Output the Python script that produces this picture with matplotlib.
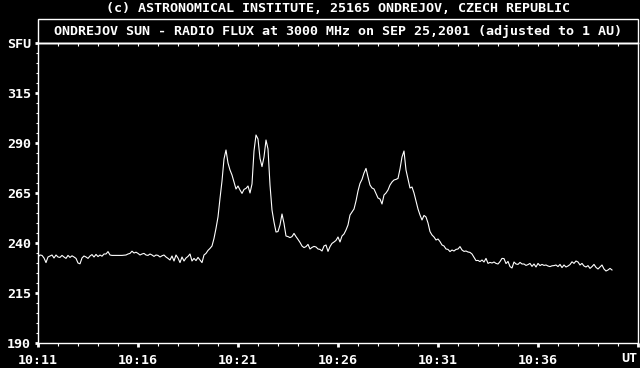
import matplotlib
matplotlib.use("Agg")
import matplotlib.pyplot as plt
from matplotlib.patches import Rectangle
import numpy as np

# radio flux at 3000 MHz, one sample every 0.1 min starting 10:11 UT (SFU)
flux_sfu = [
    233.0, 234.0, 233.8, 232.5, 230.2, 233.0, 233.5, 234.0, 232.5, 234.0,
    233.0, 232.8, 233.8, 233.0, 232.3, 233.8, 232.8, 233.6, 233.0, 232.3,
    230.0, 229.6, 232.5, 233.5, 233.0, 232.3, 233.5, 234.2, 233.0, 234.3,
    233.2, 234.0, 233.4, 234.5, 234.5, 235.7, 234.0, 233.8, 233.8, 233.8,
    233.8, 233.8, 233.8, 233.9, 234.0, 234.5, 234.8, 235.9, 235.0, 235.4,
    234.8, 234.0, 234.5, 234.8, 234.0, 233.8, 234.5, 234.0, 233.3, 234.0,
    233.8, 233.0, 233.6, 234.0, 233.0, 232.3, 231.5, 233.5, 231.0, 234.0,
    232.5, 230.2, 233.0, 231.0, 232.5, 233.3, 234.5, 231.0, 232.3, 231.2,
    232.8, 231.5, 230.2, 234.0, 234.8, 236.3, 237.3, 238.5, 242.3, 247.3,
    253.0, 262.3, 271.0, 282.0, 286.5, 280.0, 276.5, 274.0, 270.5, 267.0,
    268.5, 266.5, 264.8, 266.8, 267.3, 268.5, 265.0, 269.5, 286.0, 294.0,
    292.0, 282.3, 278.2, 283.0, 291.5, 287.0, 269.0, 256.5, 250.5, 245.5,
    245.7, 249.0, 254.5, 249.8, 243.5, 243.2, 242.7, 243.2, 244.8, 243.2,
    241.8, 240.3, 238.5, 237.7, 238.2, 239.3, 237.0, 237.8, 238.3, 238.0,
    237.0, 236.8, 236.0, 238.5, 239.0, 235.8, 238.2, 239.8, 240.5, 241.3,
    243.0, 240.5, 243.5, 244.5, 246.5, 249.0, 254.0, 255.5, 257.0, 261.0,
    266.0, 269.8, 271.8, 275.0, 277.3, 273.0, 269.0, 267.5, 267.0, 264.8,
    262.5, 262.0, 259.5, 264.0, 265.0, 266.5, 269.0, 270.5, 271.5, 271.8,
    272.3, 277.0, 283.0, 286.0, 276.5, 272.0, 267.5, 268.0, 265.0, 261.0,
    257.0, 254.0, 251.5, 253.8, 253.0, 250.0, 245.7, 244.0, 243.0, 241.5,
    242.0, 240.7, 239.0, 238.5, 237.0, 236.8, 235.7, 236.5, 236.0, 236.8,
    237.0, 238.2, 236.5, 235.8, 236.0, 235.5, 235.3, 234.5, 232.8, 231.2,
    231.3, 230.7, 231.5, 230.5, 232.3, 229.8, 230.3, 230.0, 230.5, 229.8,
    229.5, 230.7, 232.3, 232.2, 229.7, 230.8, 228.2, 227.5, 230.5, 229.5,
    229.3, 230.3, 229.5, 229.5, 228.8, 229.2, 229.8, 228.3, 229.5, 228.0,
    229.8, 228.7, 229.3, 228.8, 229.0, 228.5, 228.2, 228.6, 228.7, 229.0,
    228.2, 229.3, 227.7, 229.0, 228.0, 228.5, 229.2, 230.6, 229.8, 231.0,
    230.5, 229.0, 229.8, 228.5, 228.0, 228.7, 227.3, 228.2, 229.3, 227.8,
    227.0, 228.0, 229.0, 227.0, 226.0, 226.5, 227.3, 226.5,
]
sample_step_min = 0.1

time_ticks = [0, 5, 10, 15, 20, 25, 30]
time_labels = ["10:11", "10:16", "10:21", "10:26", "10:31", "10:36", ""]
sfu_ticks = [190, 215, 240, 265, 290, 315, 340]
sfu_labels = ["190", "215", "240", "265", "290", "315", "SFU"]

minutes = np.arange(len(flux_sfu)) * sample_step_min

font = {"family": "DejaVu Sans Mono", "weight": "bold", "size": 9.6}
fg = "white"

fig = plt.figure(figsize=(6.4, 3.68), dpi=100, facecolor="black")
ax = fig.add_axes([38 / 640, 25 / 368, 600 / 640, 300 / 368], facecolor="black")

ax.plot(minutes, flux_sfu, color=fg, lw=0.8)

ax.set_xlim(0, 30)
ax.set_ylim(190, 340)
for s in ax.spines.values():
    s.set_color(fg)
    s.set_linewidth(1.0)

ax.set_xticks(time_ticks)
ax.set_xticklabels(time_labels, fontdict=font, color=fg)
ax.set_xticks(np.arange(0, 31, 1), minor=True)
ax.set_yticks(sfu_ticks)
ax.set_yticklabels(sfu_labels, fontdict=font, color=fg)
ax.set_yticks(np.arange(190, 341, 5), minor=True)
ax.tick_params(axis="x", which="major", direction="out", length=3, width=2, color=fg, pad=5)
ax.tick_params(axis="x", which="minor", direction="out", length=2, width=0.8, color=fg)
ax.tick_params(axis="y", which="major", direction="out", length=2.5, width=2, color=fg, pad=2.5)
ax.tick_params(axis="y", which="minor", direction="out", length=1.5, width=0.8, color=fg)

top = ax.secondary_xaxis("top")
top.set_xticks(np.arange(1, 30, 1), labels=[])
top.tick_params(direction="in", length=2, width=0.8, color=fg)
top.spines["top"].set_color(fg)
top.spines["top"].set_linewidth(1.0)

# title band above the plot
fig.patches.append(Rectangle((38 / 640, 325 / 368), 600 / 640, 24 / 368,
                             transform=fig.transFigure, fill=False,
                             edgecolor=fg, linewidth=1.0))
fig.text(338 / 640, (368 - 31) / 368,
         "ONDREJOV SUN - RADIO FLUX at 3000 MHz on SEP 25,2001 (adjusted to 1 AU)",
         ha="center", va="center", color=fg, fontdict=font)
fig.text(338 / 640, (368 - 9) / 368,
         "(c) ASTRONOMICAL INSTITUTE, 25165 ONDREJOV, CZECH REPUBLIC",
         ha="center", va="center", color=fg, fontdict=font)
fig.text(637 / 640, (368 - 359) / 368, "UT", ha="right", va="center",
         color=fg, fontdict=font)

fig.savefig("out.png", dpi=100, facecolor="black")
plt.close(fig)
